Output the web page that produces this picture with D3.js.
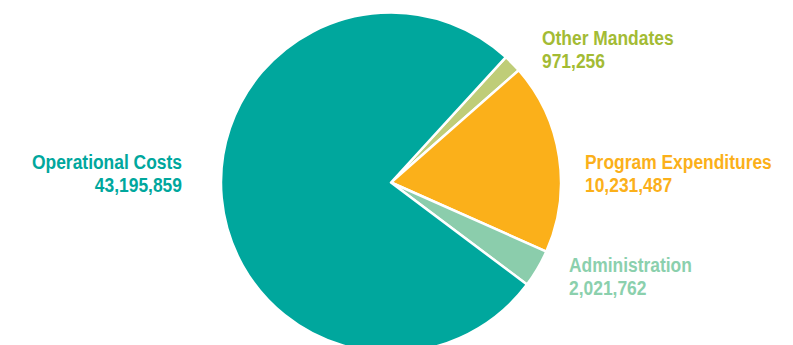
<!DOCTYPE html>
<html>
<head>
<meta charset="utf-8">
<script src="https://cdn.jsdelivr.net/npm/d3@7/dist/d3.min.js"></script>
<style>
  html, body { margin: 0; padding: 0; background: #fff; }
  svg { display: block; }
  text { font-family: "Liberation Sans", Arial, sans-serif; font-weight: bold; font-size: 21px; }
</style>
</head>
<body>
<svg id="chart" width="793" height="345"></svg>
<script>
// ---- data ----
const categories = ["Other Mandates", "Program Expenditures", "Administration", "Operational Costs"];
const values = [971256, 10231487, 2021762, 43195859];
const sliceColors = ["#bfcd78", "#fbb01a", "#8bcdac", "#00a79d"];
const labelColors = ["#a3bb34", "#fbb01a", "#8bd0ad", "#00a79d"];

// ---- layout ----
const width = 793, height = 345;
const cx = 391, cy = 182.5, radius = 170;
const startDeg = 42.5;
const labelLayout = [
  { x: 542, y: 45, anchor: "start" },
  { x: 585, y: 169, anchor: "start" },
  { x: 569, y: 272, anchor: "start" },
  { x: 182, y: 169, anchor: "end" }
];
const lineGap = 22.7;
const squeeze = 0.83;

const data = categories.map((c, i) => ({ name: c, value: values[i], i }));
const svg = d3.select("#chart");
const g = svg.append("g").attr("transform", `translate(${cx},${cy})`);

const pie = d3.pie().sort(null).value(d => d.value)
  .startAngle(startDeg * Math.PI / 180)
  .endAngle(startDeg * Math.PI / 180 + 2 * Math.PI);
const arc = d3.arc().innerRadius(0).outerRadius(radius);

g.selectAll("path").data(pie(data)).join("path")
  .attr("d", arc)
  .attr("fill", d => sliceColors[d.data.i])
  .attr("stroke", "#fff")
  .attr("stroke-width", 2.5)
  .attr("stroke-linejoin", "round");

const fmt = d3.format(",");
const lg = svg.append("g");
data.forEach((d, i) => {
  const L = labelLayout[i];
  const t = lg.append("g")
    .attr("transform", `translate(${L.x},${L.y}) scale(${squeeze},1)`)
    .append("text")
    .attr("text-anchor", L.anchor)
    .attr("fill", labelColors[i]);
  t.append("tspan").attr("x", 0).attr("y", 0).text(d.name);
  t.append("tspan").attr("x", 0).attr("y", lineGap).text(fmt(d.value));
});
</script>
</body>
</html>
